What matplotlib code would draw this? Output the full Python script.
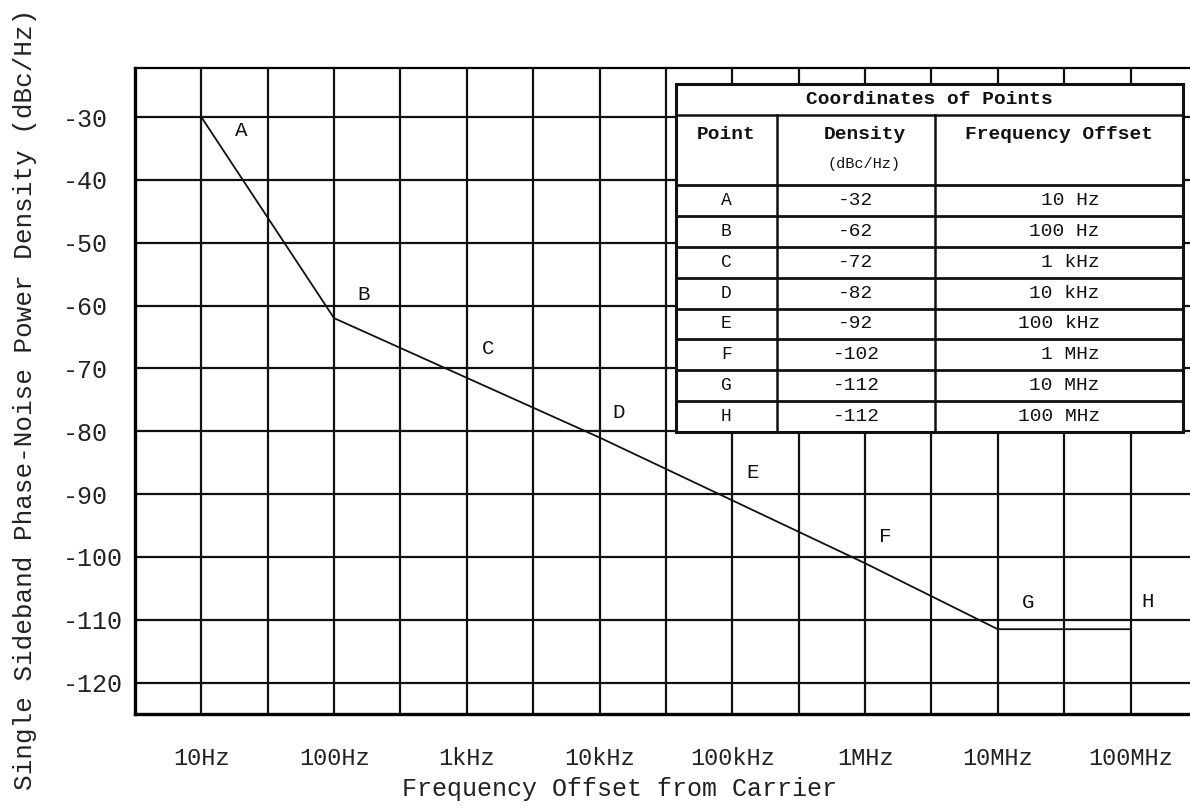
import matplotlib.pyplot as plt
import numpy as np

# data
points = ['A', 'B', 'C', 'D', 'E', 'F', 'G', 'H']
freq_hz = [1e1, 1e2, 1e3, 1e4, 1e5, 1e6, 1e7, 1e8]
line_db = [-30, -62, -71.5, -81, -91, -101, -111.5, -111.5]   # as drawn
table_db = ['-32', '-62', '-72', '-82', '-92', '-102', '-112', '-112']
table_freq = ['10 Hz', '100 Hz', '1 kHz', '10 kHz', '100 kHz', '1 MHz', '10 MHz', '100 MHz']
xtick_labels = ['10Hz', '100Hz', '1kHz', '10kHz', '100kHz', '1MHz', '10MHz', '100MHz']
yticks = [-120, -110, -100, -90, -80, -70, -60, -50, -40, -30]

plt.rcParams['font.family'] = ['Liberation Mono', 'DejaVu Sans Mono']

fig = plt.figure(figsize=(11.9, 8.08), dpi=100)
ax = fig.add_axes([0.1134, 0.1163, 0.8924, 0.7995])

ax.set_xscale('log')
ax.set_xlim(10 ** 0.5, 10 ** 8.5)
ax.set_ylim(-125, -22.2)

ax.set_xticks(freq_hz)
ax.set_xticklabels(xtick_labels, fontsize=17)
ax.set_xticks([10 ** (k + 0.5) for k in range(0, 9)], minor=True)
ax.set_xticklabels([], minor=True)
ax.set_yticks(yticks)
ax.set_yticklabels([str(v) for v in yticks], fontsize=18)
for lab in ax.get_yticklabels():
    lab.set_horizontalalignment('left')
ax.tick_params(axis='y', which='both', length=0, pad=52, colors='#222222')
ax.tick_params(axis='x', which='both', length=0, pad=24, colors='#222222')

ax.grid(True, which='both', color='#111111', lw=1.6)
ax.set_axisbelow(True)
for s in ['left', 'bottom']:
    ax.spines[s].set_linewidth(2.4)
ax.spines['top'].set_linewidth(1.6)
ax.spines['right'].set_visible(False)

ax.plot(freq_hz, line_db, color='#111111', lw=1.3, zorder=3)

# point letters
offsets = [(24, -10), (17, 17), (11, 21), (9, 18), (10, 20), (10, 19), (17, 19), (8, 20)]
for p, f, d, off in zip(points, freq_hz, line_db, offsets):
    ax.annotate(p, (f, d), xytext=off, textcoords='offset points',
                fontsize=15, ha='left', va='center', color='#111111')

ax.set_xlabel('Frequency Offset from Carrier', fontsize=18, color='#222222')
ax.xaxis.set_label_coords(0.456, -0.097)
ax.set_ylabel('Single Sideband Phase-Noise Power Density (dBc/Hz)', fontsize=18.7,
              color='#222222')
ax.yaxis.set_label_coords(-0.092, 0.487)

# coordinates table
tr = ax.transAxes
x0, x1, x2, x3 = 0.5094, 0.6045, 0.7533, 0.9868
y_top, y_h1, y_h2, y_bot = 0.9752, 0.9272, 0.8189, 0.4365
ax.add_patch(plt.Rectangle((x0, y_bot), x3 - x0, y_top - y_bot, transform=tr,
                           facecolor='white', edgecolor='#111111', lw=2.2, zorder=5))
lk = dict(transform=tr, color='#111111', zorder=6)
ax.plot([x0, x3], [y_h1, y_h1], lw=1.8, **lk)
ax.plot([x1, x1], [y_bot, y_h1], lw=1.8, **lk)
ax.plot([x2, x2], [y_bot, y_h1], lw=1.8, **lk)
row_h = (y_h2 - y_bot) / len(points)
for i in range(len(points) + 1):
    yy = y_h2 - i * row_h
    ax.plot([x0, x3], [yy, yy], lw=2.0, **lk)

tk = dict(transform=tr, zorder=7, color='#111111')
ax.text((x0 + x3) / 2, (y_top + y_h1) / 2, 'Coordinates of Points', fontsize=14,
        fontweight='bold', ha='center', va='center', **tk)
ax.text((x0 + x1) / 2, y_h1 - 0.030, 'Point', fontsize=14, fontweight='bold',
        ha='center', va='center', **tk)
ax.text((x1 + x2) / 2 + 0.008, y_h1 - 0.030, 'Density', fontsize=14, fontweight='bold',
        ha='center', va='center', **tk)
ax.text((x1 + x2) / 2 + 0.008, y_h1 - 0.075, '(dBc/Hz)', fontsize=11,
        ha='center', va='center', **tk)
ax.text((x2 + x3) / 2, y_h1 - 0.030, 'Frequency Offset', fontsize=14, fontweight='bold',
        ha='center', va='center', **tk)
for i, (p, d, f) in enumerate(zip(points, table_db, table_freq)):
    yc = y_h2 - (i + 0.5) * row_h
    ax.text((x0 + x1) / 2, yc, p, fontsize=13, ha='center', va='center', **tk)
    ax.text((x1 + x2) / 2, yc, d, fontsize=14, ha='center', va='center', **tk)
    ax.text(0.9087, yc, f, fontsize=14, ha='right', va='center', **tk)

fig.savefig('out.png', dpi=100)
